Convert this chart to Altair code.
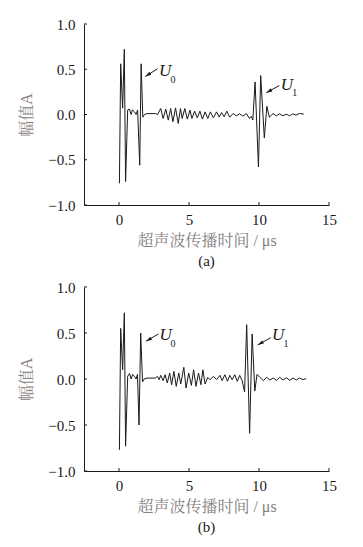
import math
import altair as alt
import pandas as pd

# ---------------- data ----------------
t_a = [0.03, 0.12, 0.26, 0.38, 0.47, 0.62, 0.75, 0.86, 0.96, 1.10, 1.22, 1.33, 1.48, 1.58, 1.70, 1.82, 2.00, 2.60,
       2.75, 2.98, 3.15, 3.34, 3.52, 3.69, 3.85, 4.04, 4.23, 4.39, 4.51, 4.70, 4.88, 5.07, 5.21, 5.40, 5.59, 5.78,
       5.96, 6.15, 6.34, 6.53, 6.74, 6.97, 7.16, 7.33, 7.51, 7.70, 7.91, 8.15, 8.38, 8.62, 8.85, 9.09, 9.32, 9.45,
       9.56, 9.72, 9.96, 10.12, 10.38, 10.56, 10.74, 11.00, 11.24, 11.47, 11.71, 11.94, 12.18, 12.41, 12.65, 12.88,
       13.20]
amp_a = [-0.76, 0.56, 0.07, 0.72, -0.74, 0.05, 0.06, 0.00, 0.05, 0.03, 0.00, 0.05, -0.56, 0.56, -0.03, 0.00, 0.01, 0.01,
         0.00, 0.066, -0.044, 0.059, -0.062, 0.066, -0.080, 0.073, -0.099, 0.066, -0.044, 0.066, -0.051, 0.048,
         -0.044, 0.037, -0.037, 0.037, -0.051, 0.029, -0.044, 0.029, -0.037, 0.029, -0.029, 0.022, -0.026, 0.037,
         -0.029, 0.011, -0.015, 0.007, -0.018, 0.011, -0.044, -0.020,
         -0.06, 0.36, -0.58, 0.43, -0.26, 0.09, -0.03, 0.010, -0.015, 0.007, -0.015, 0.004, -0.015, 0.007, -0.007,
         0.011, 0.004]

t_b = [0.03, 0.12, 0.26, 0.38, 0.47, 0.62, 0.75, 0.87, 0.97, 1.10, 1.22, 1.32, 1.43, 1.55, 1.68, 1.80, 2.00, 2.60,
       2.75, 2.87, 2.98, 3.15, 3.29, 3.45, 3.62, 3.76, 3.92, 4.09, 4.27, 4.41, 4.63, 4.79, 4.98, 5.17, 5.33, 5.50,
       5.68, 5.85, 5.99, 6.15, 6.34, 6.50, 6.74, 6.97, 7.21, 7.37, 7.56, 7.75, 7.91, 8.08, 8.27, 8.45, 8.62, 8.80,
       8.97, 9.12, 9.33, 9.51, 9.70, 9.86, 10.07, 10.31, 10.54, 10.78, 11.01, 11.25, 11.48, 11.72, 11.95, 12.19,
       12.43, 12.66, 12.90, 13.13, 13.37]
amp_b = [-0.77, 0.55, 0.10, 0.72, -0.73, 0.03, 0.06, 0.00, 0.05, 0.03, 0.00, 0.05, -0.50, 0.50, -0.03, 0.00, 0.01, 0.01,
         0.029, -0.007, 0.040, -0.018, 0.047, -0.043, 0.065, -0.062, 0.083, -0.080, 0.065, -0.054, 0.127, -0.098,
         0.065, -0.069, 0.100, -0.080, 0.065, -0.062, 0.100, -0.054, 0.018, -0.007, 0.029, -0.007, 0.040, -0.018,
         0.047, -0.025, 0.040, -0.007, 0.047, -0.025, 0.040, -0.020,
         -0.14, 0.59, -0.59, 0.49, -0.13, 0.05, 0.018, -0.018, 0.018, -0.011, 0.011, -0.014, 0.018, -0.011, 0.014,
         -0.014, 0.011, -0.011, 0.011, -0.007, 0.004]

x_ticks = [0, 5, 10, 15]
y_ticks = [-1.0, -0.5, 0.0, 0.5, 1.0]

# annotations: arrow tail, arrow tip, "U" label and subscript positions
arrow_tail_t_a = [2.75, 11.45]
arrow_tail_A_a = [0.505, 0.32]
arrow_tip_t_a = [1.88, 10.52]
arrow_tip_A_a = [0.42, 0.24]
u_t_a = [3.29, 11.99]
u_A_a = [0.48, 0.33]
sub_t_a = [3.85, 12.56]
sub_A_a = [0.38, 0.24]

arrow_tail_t_b = [2.82, 10.85]
arrow_tail_A_b = [0.49, 0.45]
arrow_tip_t_b = [1.93, 9.91]
arrow_tip_A_b = [0.41, 0.37]
u_t_b = [3.34, 11.37]
u_A_b = [0.48, 0.48]
sub_t_b = [3.85, 11.93]
sub_A_b = [0.385, 0.385]

subscripts = ["0", "1"]

X_TITLE = "超声波传播时间 / μs"
Y_TITLE = "幅值A"

# ---------------- chart ----------------
W = 245
PX_PER_T = W / 17.5
SERIF = "Liberation Serif, Noto Serif CJK SC, Noto Sans CJK SC"
INK = "#1a1a1a"
HEAD = "M0,0 L0.45,1.5 L-0.45,1.5 Z"


def panel(t, amp, tail_t, tail_A, tip_t, tip_A, ut, uA, st, sA, label, H):
    xs = alt.Scale(domain=[-2.5, 15], nice=False, zero=False)
    ys = alt.Scale(domain=[-1, 1], nice=False, zero=False)
    px_per_A = H / 2.0
    angles = []
    for a0, b0, a1, b1 in zip(tail_t, tail_A, tip_t, tip_A):
        dx = (a1 - a0) * PX_PER_T
        dy = -(b1 - b0) * px_per_A
        angles.append(math.degrees(math.atan2(dx, -dy)) % 360)

    line = alt.Chart(pd.DataFrame({"t": t, "A": amp})).mark_line(
        color=INK, strokeWidth=1.0
    ).encode(
        x=alt.X("t:Q", scale=xs, axis=alt.Axis(values=x_ticks, title=X_TITLE, format="d")),
        y=alt.Y("A:Q", scale=ys, axis=alt.Axis(values=y_ticks, title=Y_TITLE, format=".1f")),
    )
    xt = alt.Chart(pd.DataFrame({"t": x_ticks})).mark_rule(color=INK, strokeWidth=1).encode(
        x=alt.X("t:Q", scale=xs), y=alt.value(H), y2=alt.value(H - 3)
    )
    yt = alt.Chart(pd.DataFrame({"A": y_ticks})).mark_rule(color=INK, strokeWidth=1).encode(
        y=alt.Y("A:Q", scale=ys), x=alt.value(0), x2=alt.value(3)
    )
    adf = pd.DataFrame({"t": tail_t, "A": tail_A, "t2": tip_t, "A2": tip_A})
    arrows = alt.Chart(adf).mark_rule(color=INK, strokeWidth=1).encode(
        x=alt.X("t:Q", scale=xs), y=alt.Y("A:Q", scale=ys), x2="t2:Q", y2="A2:Q"
    )
    hdf = pd.DataFrame({"t": tip_t, "A": tip_A, "ang": angles})
    heads = alt.Chart(hdf).mark_point(
        shape=HEAD, filled=True, size=64, color=INK, opacity=1, strokeWidth=0
    ).encode(
        x=alt.X("t:Q", scale=xs), y=alt.Y("A:Q", scale=ys), angle=alt.Angle("ang:Q", scale=None)
    )
    udf = pd.DataFrame({"t": ut, "A": uA})
    u = alt.Chart(udf).mark_text(
        text="U", font="Liberation Serif", fontStyle="italic", fontSize=17, color=INK,
        align="center", baseline="middle"
    ).encode(x=alt.X("t:Q", scale=xs), y=alt.Y("A:Q", scale=ys))
    sdf = pd.DataFrame({"t": st, "A": sA, "s": subscripts})
    sub = alt.Chart(sdf).mark_text(
        font="Liberation Serif", fontSize=10, color=INK, align="center", baseline="middle"
    ).encode(x=alt.X("t:Q", scale=xs), y=alt.Y("A:Q", scale=ys), text="s:N")

    return alt.layer(line, xt, yt, arrows, heads, u, sub).properties(
        width=W, height=H,
        title=alt.TitleParams(label, orient="bottom", frame="group", anchor="middle",
                              font="Liberation Serif", fontSize=15, fontWeight="normal",
                              color=INK, offset=6),
    )


pa = panel(t_a, amp_a, arrow_tail_t_a, arrow_tail_A_a, arrow_tip_t_a, arrow_tip_A_a,
           u_t_a, u_A_a, sub_t_a, sub_A_a, "(a)", 181)
pb = panel(t_b, amp_b, arrow_tail_t_b, arrow_tail_A_b, arrow_tip_t_b, arrow_tip_A_b,
           u_t_b, u_A_b, sub_t_b, sub_A_b, "(b)", 184)

chart = alt.vconcat(pa, pb, spacing=9).properties(
    padding={"left": 10, "top": 8, "right": 5, "bottom": 5}
).configure_view(stroke="transparent").configure_axis(
    domainColor=INK, domainWidth=1, ticks=False, grid=False,
    labelFont="Liberation Serif", labelFontSize=15, labelColor=INK, labelFlush=False,
    titleFont=SERIF, titleFontSize=16, titleFontWeight="normal", titleColor="#858080",
).configure_axisX(labelPadding=7, titlePadding=5).configure_axisY(labelPadding=9, titlePadding=13)

chart.save("out.html", embed_options={"renderer": "svg", "actions": False})
